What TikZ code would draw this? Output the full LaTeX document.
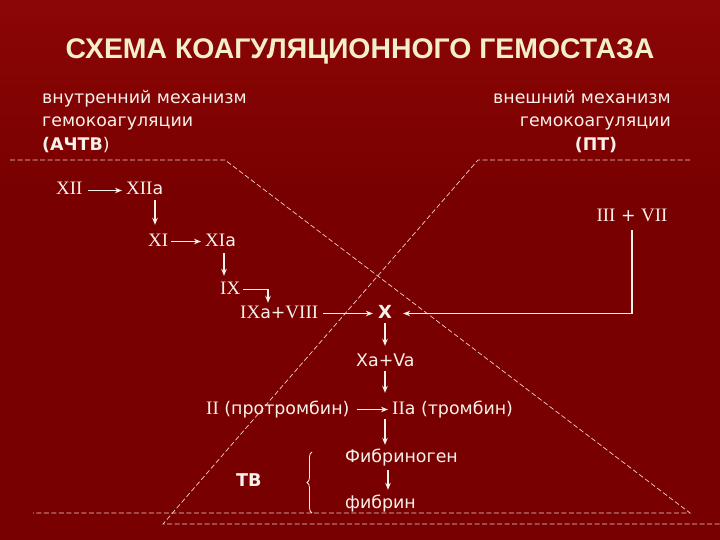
\documentclass[tikz,border=0pt]{standalone}
\usepackage{fontspec}
\setmainfont{DejaVu Sans}
\newfontfamily\rmn{Liberation Serif}
\newfontfamily\ttlfont{Liberation Sans}
\usetikzlibrary{arrows.meta,calc,decorations.pathreplacing}
\definecolor{bgtop}{HTML}{8C0606}
\definecolor{bgbot}{HTML}{780000}
\definecolor{txt}{HTML}{F8F0EA}
\definecolor{ttl}{HTML}{F4EFCB}
\definecolor{dsh}{HTML}{F2CFCF}
\begin{document}
\begin{tikzpicture}[x=1pt,y=-1pt,
  lbl/.style={inner sep=0pt, text height=13pt, text depth=4pt, anchor=base west, text=txt, font=\fontsize{17.4}{20}\selectfont},
  rlbl/.style={lbl, anchor=base east},
  clbl/.style={lbl, anchor=base},
  arr/.style={draw=txt, line width=1.4pt, -{Stealth[length=7pt,width=5.5pt]}},
  dline/.style={draw=dsh, line width=0.7pt, dash pattern=on 5pt off 2.5pt},
]
\useasboundingbox (0,0) rectangle (720,540);
\shade[top color=bgtop, bottom color=bgbot] (0,0) rectangle (720,200);
\fill[bgbot] (0,199.5) rectangle (720,540);

% dashed frame lines
\draw[dline] (10,160) -- (225,160) -- (690,513) -- (33,513);
\draw[dline] (690,160) -- (478,160) -- (163,524) -- (720,524);

% title
\node[anchor=base, inner sep=0pt, text=ttl, font=\ttlfont\bfseries\fontsize{28.4}{30}\selectfont] (title) at (360,59) {СХЕМА КОАГУЛЯЦИОННОГО ГЕМОСТАЗА};

% headers
\node[lbl] (int1) at (42,104) {внутренний механизм};
\node[lbl] (int2) at (42,127) {гемокоагуляции};
\node[lbl] (int3) at (42,151) {\textbf{(АЧТВ})};
\node[rlbl] (ext1) at (671,104) {внешний механизм};
\node[rlbl] (ext2) at (671,127) {гемокоагуляции};
\node[clbl] (ext3) at (596,151) {\textbf{(ПТ)}};

% cascade
\node[lbl] (xii) at (56,195) {{\rmn\fontsize{19}{20}\selectfont XII}};
\node[lbl] (xiia) at (126,195) {{\rmn\fontsize{19}{20}\selectfont XII}a};
\node[lbl] (xi) at (148,246) {{\rmn\fontsize{19}{20}\selectfont XI}};
\node[lbl] (xia) at (205,246) {{\rmn\fontsize{19}{20}\selectfont XI}a};
\node[lbl] (ix) at (220,294) {{\rmn\fontsize{19}{20}\selectfont IX}};
\node[lbl] (ixa) at (240,318) {{\rmn\fontsize{19}{20}\selectfont IX}a+{\rmn\fontsize{19}{20}\selectfont VIII}};
\node[clbl, font=\bfseries\fontsize{18}{20}\selectfont] (xb) at (385,318) {X};
\node[clbl] (iii) at (632,222) {{\rmn\fontsize{19}{20}\selectfont III} + {\rmn\fontsize{19}{20}\selectfont VII}};
\node[lbl] (xava) at (356,366) {Xa+Va};
\node[lbl] (ii) at (206,414) {{\rmn\fontsize{19}{20}\selectfont II} (протромбин)};
\node[lbl] (iia) at (392,414) {{\rmn\fontsize{19}{20}\selectfont II}a (тромбин)};
\node[lbl] (fibgen) at (345,462) {Фибриноген};
\node[lbl] (fib) at (345,508) {фибрин};
\node[lbl, font=\bfseries\fontsize{17.6}{20}\selectfont] (tv) at (236,486) {ТВ};

% helper points on connectors
\coordinate (c1) at ($(xiia.south west)+(29,0)$);
\coordinate (c2) at ($(xia.south west)+(19,0)$);
\coordinate (c3) at ($(ixa.north west)+(28,0)$);
\coordinate (c4) at ($(fibgen.south west)+(43,0)$);

% arrows
\draw[arr, shorten <=5pt, shorten >=4pt] (xii.east) -- (xiia.west);
\draw[arr, shorten <=1pt, shorten >=8pt] (c1) -- (c1 |- xi.north);
\draw[arr, shorten <=3pt, shorten >=4pt] (xi.east) -- (xia.west);
\draw[arr, shorten <=3pt, shorten >=5pt] (c2) -- (c2 |- ix.north);
\draw[arr, shorten <=3pt, shorten >=2pt] (ix.east) -| (c3);
\draw[arr, shorten <=5pt, shorten >=5pt] (ixa.east) -- (xb.west);
\draw[arr, shorten <=4pt, shorten >=11pt] (iii.south) |- (xb.east);
\draw[arr, shorten <=1pt, shorten >=7pt] (xb.south) -- (xb.south |- xava.north);
\draw[arr, shorten <=1pt, shorten >=8pt] (xb.south |- xava.south) -- (xb.south |- iia.north);
\draw[arr, shorten <=7pt, shorten >=4pt] (ii.east) -- (iia.west);
\draw[arr, shorten <=1pt, shorten >=4pt] (xb.south |- iia.south) -- (xb.south |- fibgen.north);
\draw[arr, shorten <=4pt, shorten >=5pt] (c4) -- (c4 |- fib.north);

% brace
\coordinate (bb) at (312,513);
\coordinate (bt) at (312,452);
\draw[txt, line width=0.8pt, decorate, decoration={brace, amplitude=5pt}] (bb) -- (bt);
\end{tikzpicture}
\end{document}
